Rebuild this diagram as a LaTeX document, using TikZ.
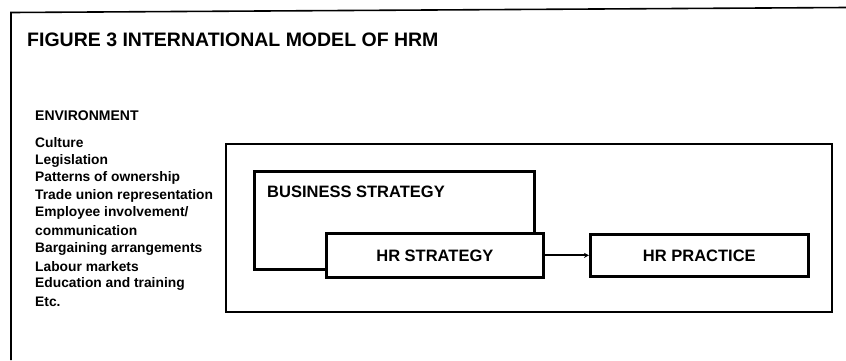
\documentclass[tikz,border=0pt]{standalone}
\usepackage{fontspec}
\setmainfont{Liberation Sans}
\usetikzlibrary{arrows.meta}
\begin{document}
\begin{tikzpicture}[x=1pt,y=-1pt,
  stratbox/.style={draw=black, line width=2.7pt, fill=white, inner sep=0pt},
  bigbox/.style={draw=black, line width=2.3pt, inner sep=0pt},
  boxtext/.style={font=\fontsize{16.5}{18}\selectfont\bfseries, inner sep=0pt},
  envtext/.style={font=\fontsize{13.8}{15}\selectfont\bfseries, inner sep=0pt, anchor=west},
  framestyle/.style={draw=black, line width=1.6pt}
]
\useasboundingbox (0,0) rectangle (846,360);
\fill[white] (0,0) rectangle (846,360);
% outer frame (cut off at right and bottom)
\coordinate (fbl) at (11,360);
\coordinate (ftl) at (11,12.5);
\coordinate (ftr) at (846,7.5);
\draw[framestyle] (fbl) -- (ftl) -- (ftr);
% title
\node[font=\fontsize{19.5}{22}\selectfont\bfseries, inner sep=0pt, anchor=west] (title) at (27,40) {FIGURE 3 INTERNATIONAL MODEL OF HRM};
% environment list
\node[font=\fontsize{14}{16}\selectfont\bfseries, inner sep=0pt, anchor=west] (env) at (35,116) {ENVIRONMENT};
\node[envtext] (e1) at (35,143) {Culture};
\node[envtext] (e2) at (35,160.6) {Legislation};
\node[envtext] (e3) at (35,178.2) {Patterns of ownership};
\node[envtext] (e4) at (35,195.8) {Trade union representation};
\node[envtext] (e5) at (35,213.4) {Employee involvement/};
\node[envtext] (e6) at (35,231) {communication};
\node[envtext] (e7) at (35,248.6) {Bargaining arrangements};
\node[envtext] (e8) at (35,266.2) {Labour markets};
\node[envtext] (e9) at (35,283.8) {Education and training};
\node[envtext] (e10) at (35,301.4) {Etc.};
% big box
\node[bigbox, minimum width=606pt, minimum height=168pt, anchor=north west] (big) at (225,143) {};
% business strategy
\node[stratbox, minimum width=280pt, minimum height=98pt, anchor=north west] (bs) at (253,170) {};
\node[boxtext, anchor=west] (bslabel) at (267,192) {BUSINESS STRATEGY};
% HR strategy
\node[stratbox, minimum width=217pt, minimum height=44pt, anchor=north west] (hrs) at (325,232) {};
\node[boxtext] (hrslabel) at (hrs.center) {HR STRATEGY};
% HR practice
\node[stratbox, minimum width=218pt, minimum height=42pt, anchor=north west] (hrp) at (589,233) {};
\node[boxtext] (hrplabel) at (hrp.center) {HR PRACTICE};
% arrow
\draw[line width=2.2pt, -{Stealth[length=5pt,width=5pt]}] (hrs.east) -- (hrs.east -| hrp.west);
\end{tikzpicture}
\end{document}
